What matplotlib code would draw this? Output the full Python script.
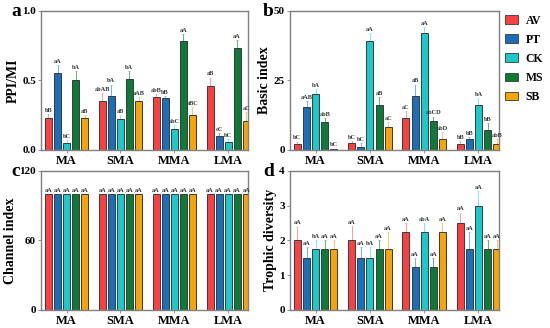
import numpy as np
import matplotlib.pyplot as plt
from matplotlib.patches import Patch

plt.rcParams['font.family'] = ['Liberation Serif', 'DejaVu Serif']
plt.rcParams['font.weight'] = 'bold'

groups = ['MA', 'SMA', 'MMA', 'LMA']
treatments = ['AV', 'PT', 'CK', 'MS', 'SB']
colors = ['#F94144', '#1A6FB8', '#1FC8C8', '#0E7A3A', '#F5A50A']
err_colors = ['#FF9A9A', '#6BB6E8', '#86E6E6', '#5FB37E', '#F8C86C']

# rows = groups, columns = treatments
ppi_mean = [[0.23, 0.55, 0.05, 0.50, 0.23],
            [0.35, 0.39, 0.22, 0.51, 0.35],
            [0.38, 0.37, 0.15, 0.78, 0.25],
            [0.46, 0.10, 0.06, 0.73, 0.21]]
ppi_err = [[0.03, 0.06, 0.02, 0.07, 0.02],
           [0.06, 0.08, 0.03, 0.06, 0.03],
           [0.02, 0.02, 0.03, 0.05, 0.06],
           [0.06, 0.02, 0.02, 0.06, 0.06]]
ppi_lab = [['bB', 'aA', 'bC', 'bA', 'aB'],
           ['abAB', 'bA', 'aB', 'bA', 'aAB'],
           ['abB', 'bB', 'abC', 'aA', 'aBC'],
           ['aB', 'cC', 'bC', 'aA', 'aC']]

basic_mean = [[2.0, 15.3, 20.0, 10.0, 0.3],
              [2.3, 1.2, 39.0, 16.0, 8.3],
              [11.5, 19.3, 42.0, 10.5, 4.0],
              [2.2, 3.8, 16.0, 7.3, 2.2]]
basic_err = [[1.0, 2.2, 2.0, 1.5, 0.2],
             [0.9, 1.3, 3.0, 3.0, 1.7],
             [2.5, 4.2, 2.2, 1.5, 2.5],
             [1.1, 0.7, 2.5, 2.2, 1.8]]
basic_lab = [['bC', 'aAB', 'bA', 'abB', 'bC'],
             ['bC', 'bC', 'aA', 'aB', 'aC'],
             ['aC', 'aB', 'aA', 'abCD', 'abD'],
             ['bB', 'bB', 'bA', 'bB', 'abB']]

channel_mean = [[100] * 5 for _ in range(4)]
channel_err = [[0] * 5 for _ in range(4)]
channel_lab = [['aA'] * 5 for _ in range(4)]

troph_mean = [[2.0, 1.5, 1.75, 1.75, 1.75],
              [2.0, 1.5, 1.5, 1.75, 1.75],
              [2.25, 1.25, 2.25, 1.25, 2.25],
              [2.5, 1.75, 3.0, 1.75, 1.75]]
troph_err = [[0.4, 0.3, 0.25, 0.25, 0.25],
             [0.42, 0.3, 0.3, 0.25, 0.5],
             [0.25, 0.25, 0.25, 0.25, 0.25],
             [0.3, 0.5, 0.42, 0.25, 0.25]]
troph_lab = [['aA', 'aA', 'bA', 'aA', 'aA'],
             ['aA', 'aA', 'bA', 'aA', 'aA'],
             ['aA', 'aA', 'abA', 'aA', 'aA'],
             ['aA', 'aA', 'aA', 'aA', 'aA']]

panels = [
    ('a', 'PPI/MI', ppi_mean, ppi_err, ppi_lab, (0, 1.0), [0.0, 0.5, 1.0], ['0.0', '0.5', '1.0']),
    ('b', 'Basic index', basic_mean, basic_err, basic_lab, (0, 50), [0, 25, 50], ['0', '25', '50']),
    ('c', 'Channel index', channel_mean, channel_err, channel_lab, (0, 120), [0, 60, 120], ['0', '60', '120']),
    ('d', 'Trophic diversity', troph_mean, troph_err, troph_lab, (0, 4), [0, 1, 2, 3, 4], ['0', '1', '2', '3', '4']),
]

positions = [[0.0745, 0.543, 0.377, 0.424],
             [0.527, 0.543, 0.380, 0.424],
             [0.0745, 0.055, 0.377, 0.424],
             [0.527, 0.055, 0.380, 0.424]]
letter_pos = [(0.02, 0.965), (0.478, 0.965), (0.02, 0.478), (0.478, 0.478)]

fig = plt.figure(figsize=(5.5, 3.28), dpi=100)
step = 0.168
width = 0.13
x = np.arange(len(groups))

for k, (letter, ylabel, mean, err, lab, ylim, yt, ytl) in enumerate(panels):
    ax = fig.add_axes(positions[k])
    mean = np.array(mean, dtype=float)
    err = np.array(err, dtype=float)
    span = ylim[1] - ylim[0]
    for j in range(len(treatments)):
        xs = x + (j - 2) * step
        ax.bar(xs, mean[:, j], width, color=colors[j], edgecolor='#3a3a3a',
               linewidth=0.7, zorder=2)
        if err[:, j].max() > 0:
            ax.errorbar(xs, mean[:, j], yerr=[np.zeros(4), err[:, j]], fmt='none',
                        ecolor=err_colors[j], elinewidth=0.7, capsize=1.0,
                        capthick=0.5, zorder=1)
        for i in range(len(groups)):
            ax.text(xs[i], mean[i, j] + err[i, j] + span * 0.008, lab[i][j],
                    ha='center', va='bottom', fontsize=4.6, color='#333333',
                    fontweight='bold')
    ax.set_xlim(-0.475, 3.375)
    ax.set_ylim(*ylim)
    ax.set_yticks(yt)
    ax.set_yticklabels(ytl, fontsize=8, fontweight='bold')
    ax.set_xticks(x)
    ax.set_xticklabels(groups, fontsize=9, fontweight='bold')
    ax.set_ylabel(ylabel, fontsize=10, fontweight='bold', labelpad=2)
    ax.tick_params(axis='both', length=2, width=0.6, pad=1.5, color='#808080')
    for s in ax.spines.values():
        s.set_color('#808080')
        s.set_linewidth(1.0)
    fig.text(letter_pos[k][0], letter_pos[k][1], letter, fontsize=14,
             fontweight='bold', va='center', ha='left')

handles = [Patch(facecolor=c, edgecolor='#3a3a3a', linewidth=0.6) for c in colors]
fig.legend(handles, treatments, loc='upper left', bbox_to_anchor=(0.918, 0.955),
           frameon=False, handlelength=1.15, handleheight=0.75,
           labelspacing=0.6, handletextpad=0.6, borderpad=0, borderaxespad=0,
           prop={'weight': 'bold', 'size': 8.5})

fig.savefig('out.png', dpi=100)
